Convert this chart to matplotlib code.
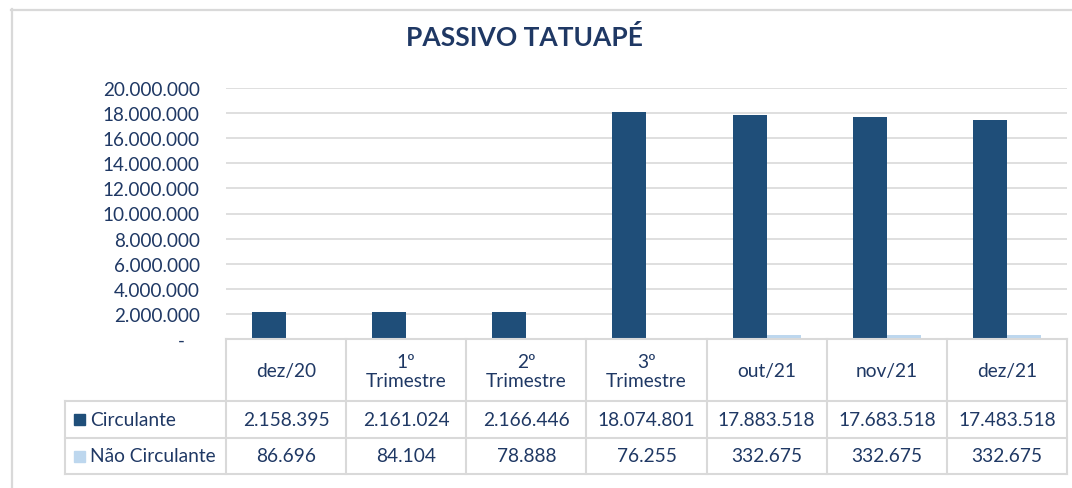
import numpy as np
import matplotlib
matplotlib.use("Agg")
from matplotlib import pyplot as plt
from matplotlib.patches import Rectangle
from matplotlib.lines import Line2D

plt.rcParams['font.family'] = ['Lato', 'DejaVu Sans']

# Dados
categorias = ["dez/20", "1º\nTrimestre", "2º\nTrimestre", "3º\nTrimestre", "out/21", "nov/21", "dez/21"]
series = ["Circulante", "Não Circulante"]
circulante = [2158395, 2161024, 2166446, 18074801, 17883518, 17683518, 17483518]
nao_circulante = [86696, 84104, 78888, 76255, 332675, 332675, 332675]
yticks = [0, 2000000, 4000000, 6000000, 8000000, 10000000, 12000000, 14000000, 16000000, 18000000, 20000000]

cor_escura = '#1F4E79'
cor_clara = '#BDD7EE'
cor_texto = '#1F3864'
cor_linha = '#D9D9D9'

W, H = 1072, 489
fig = plt.figure(figsize=(W / 100, H / 100), dpi=100)


def fx(px):
    return px / W


def fy(py):
    return 1 - py / H


def fmt(v):
    if v == 0:
        return "-   "
    return f"{v:,.0f}".replace(",", ".")


# Borda do gráfico (só topo e esquerda visíveis)
fig.add_artist(Line2D([fx(11), fx(1072)], [fy(11), fy(11)], color=cor_linha, lw=1.6))
fig.add_artist(Line2D([fx(12), fx(12)], [fy(10), fy(489)], color=cor_linha, lw=1.6))

fig.text(fx(524), fy(37), "PASSIVO TATUAPÉ", ha='center', va='center',
         fontsize=19, fontweight='bold', color=cor_texto)

# Área do gráfico
x0, x1, ytop, ybot = 226, 1067, 89, 340
ax = fig.add_axes([fx(x0), fy(ybot), fx(x1 - x0), (ybot - ytop) / H])
x = np.arange(len(categorias))
w = 0.283
ax.bar(x - w / 2, circulante, w, color=cor_escura, zorder=3)
ax.bar(x + w / 2, nao_circulante, w, color=cor_clara, zorder=3)
ax.set_xlim(-0.5, len(categorias) - 0.5)
ax.set_ylim(0, 20000000)
ax.set_yticks(yticks)
ax.set_yticklabels([fmt(v) for v in yticks])
ax.set_xticks([])
ax.tick_params(axis='y', length=0, pad=19, labelsize=13.6, labelcolor=cor_texto)
ax.yaxis.grid(True, color=cor_linha, lw=1.2, zorder=0)
for s in ax.spines.values():
    s.set_visible(False)

# Tabela de dados
col_w = (x1 - x0) / len(categorias)
left = 65
rows = [340, 402, 439, 475]
lw_t = 1.5
fs = 13.8

fig.add_artist(Line2D([fx(x0), fx(x1)], [fy(rows[0]), fy(rows[0])], color=cor_linha, lw=lw_t))
for r in rows[1:]:
    fig.add_artist(Line2D([fx(left), fx(x1)], [fy(r), fy(r)], color=cor_linha, lw=lw_t))
fig.add_artist(Line2D([fx(left), fx(left)], [fy(rows[1]), fy(rows[3])], color=cor_linha, lw=lw_t))
for i in range(len(categorias) + 1):
    xc = x0 + i * col_w
    fig.add_artist(Line2D([fx(xc), fx(xc)], [fy(rows[0]), fy(rows[3])], color=cor_linha, lw=lw_t))

for i, cat in enumerate(categorias):
    xc = x0 + (i + 0.5) * col_w
    fig.text(fx(xc), fy((rows[0] + rows[1]) / 2 + 1), cat, ha='center', va='center',
             fontsize=fs, color=cor_texto, linespacing=1.2)
    fig.text(fx(xc), fy((rows[1] + rows[2]) / 2), fmt(circulante[i]), ha='center', va='center',
             fontsize=fs, color=cor_texto)
    fig.text(fx(xc), fy((rows[2] + rows[3]) / 2), fmt(nao_circulante[i]), ha='center', va='center',
             fontsize=fs, color=cor_texto)

for j, (nome, cor) in enumerate(zip(series, [cor_escura, cor_clara])):
    yc = (rows[j + 1] + rows[j + 2]) / 2
    fig.add_artist(Rectangle((fx(74), fy(yc + 5.5)), fx(11), 11 / H, color=cor))
    fig.text(fx(90), fy(yc), nome, ha='left', va='center', fontsize=fs, color=cor_texto)

fig.savefig("out.png", dpi=100)
